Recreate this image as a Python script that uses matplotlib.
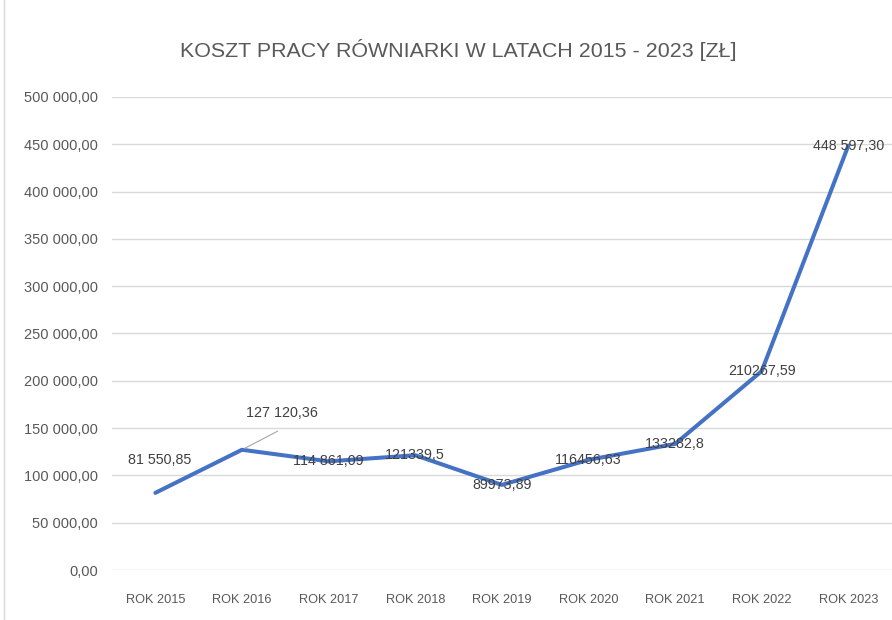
import matplotlib.pyplot as plt
from matplotlib.ticker import FuncFormatter

#--- DATA ---#

years = ["ROK 2015", "ROK 2016", "ROK 2017", "ROK 2018", "ROK 2019",
         "ROK 2020", "ROK 2021", "ROK 2022", "ROK 2023"]
cost = [81550.85, 127120.36, 114861.09, 121339.5, 89973.89,
        116456.63, 133282.8, 210267.59, 448597.30]
# labels as written on the chart (format not uniform)
labels = ["81 550,85", "127 120,36", "114 861,09", "121339,5", "89973,89",
          "116456,63", "133282,8", "210267,59", "448 597,30"]

title = "KOSZT PRACY RÓWNIARKI W LATACH 2015 - 2023 [ZŁ]"

#--- STYLE ---#

plt.rcParams['font.family'] = ['Liberation Sans Narrow', 'Liberation Sans', 'DejaVu Sans']
txt_col = "#595959"
line_col = "#4472C4"
grid_col = "#d9d9d9"

def pl_fmt(v, pos=None):
    s = "{:,.2f}".format(v)
    return s.replace(",", " ").replace(".", ",")

#--- PLOT ---#

fig = plt.figure(figsize=(8.92, 6.2), dpi=100)
ax = fig.add_axes([0.1256, 0.0806, 0.874, 0.763])

x = range(len(years))
ax.plot(x, cost, color=line_col, lw=2.9, solid_capstyle='round', zorder=3)

ax.set_xlim(-0.5, len(years) - 0.5)
ax.set_ylim(0, 500000)
ax.set_yticks(range(0, 500001, 50000))
ax.yaxis.set_major_formatter(FuncFormatter(pl_fmt))
ax.set_xticks(list(x))
ax.set_xticklabels(years)
ax.grid(axis='y', color=grid_col, lw=1)
ax.set_axisbelow(True)
for s in ax.spines.values():
    s.set_visible(False)
ax.tick_params(length=0, colors=txt_col)
ax.tick_params(axis='y', pad=10, labelsize=10.5)
ax.tick_params(axis='x', pad=17, labelsize=9.2)

# data labels
for i, (v, lab) in enumerate(zip(cost, labels)):
    dx, dy = 0, 0
    if i == 0:
        dx, dy = 4, 33
    elif i == 1:
        dx, dy = 40, 37
        ax.annotate("", xy=(i, v), xytext=(i + 0.44, v + 21000),
                    arrowprops=dict(arrowstyle='-', color='#a6a6a6', lw=0.8), zorder=4)
    ax.annotate(lab, (i, v), xytext=(dx, dy), textcoords='offset pixels',
                ha='center', va='center', fontsize=10.3, color='#404040', zorder=5)

fig.text(0.514, 0.92, title, ha='center', va='center', fontsize=15.4, color='#595959')
fig.add_artist(plt.Line2D([0.004, 0.004], [0, 1], color='#d9d9d9', lw=1))

plt.savefig("out.png", dpi=100)
plt.close()
